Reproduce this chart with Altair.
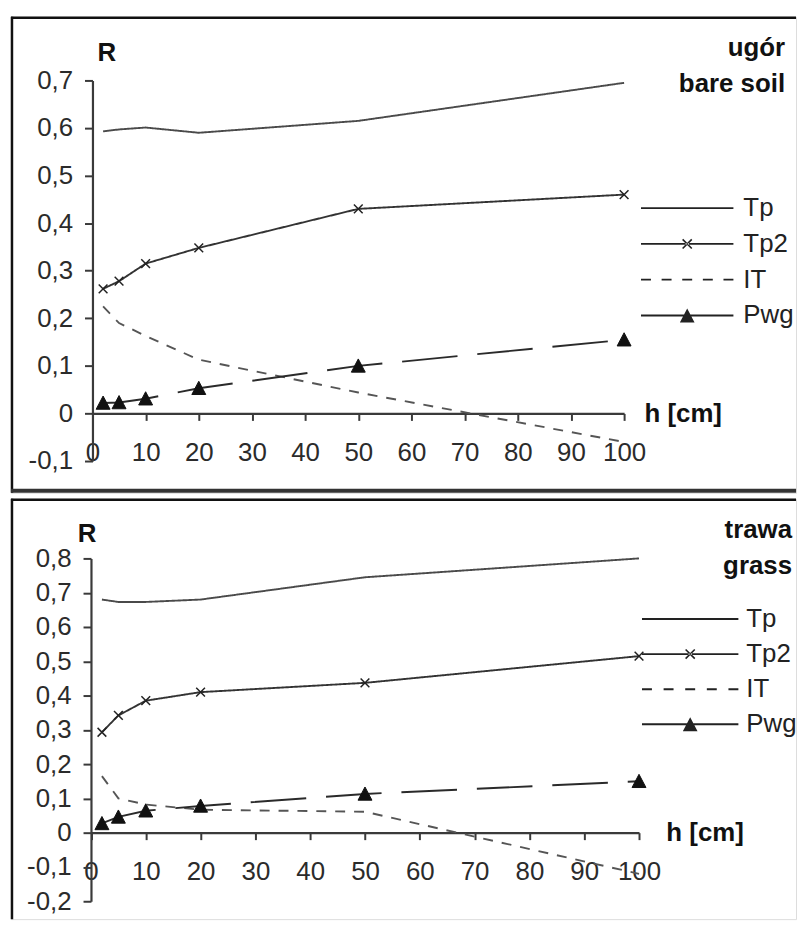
import altair as alt
import pandas as pd

FONT = "Liberation Sans"

# ---------------- data ----------------
h = [2, 5, 10, 20, 50, 100]
series = ["Tp", "Tp2", "IT", "Pwg"]

soil_Tp = [0.593, 0.597, 0.601, 0.590, 0.615, 0.695]
soil_Tp2 = [0.262, 0.278, 0.315, 0.348, 0.430, 0.460]
soil_IT = [0.225, 0.190, 0.163, 0.113, 0.044, -0.060]
soil_Pwg = [0.022, 0.023, 0.031, 0.053, 0.100, 0.155]

grass_Tp = [0.680, 0.673, 0.673, 0.680, 0.745, 0.800]
grass_Tp2 = [0.293, 0.342, 0.385, 0.410, 0.437, 0.515]
grass_IT = [0.165, 0.100, 0.082, 0.067, 0.061, -0.120]
grass_Pwg = [0.027, 0.046, 0.064, 0.078, 0.113, 0.150]

x_ticks = [0, 10, 20, 30, 40, 50, 60, 70, 80, 90, 100]
soil_y_ticks = [-0.1, 0.0, 0.1, 0.2, 0.3, 0.4, 0.5, 0.6, 0.7]
grass_y_ticks = [-0.2, -0.1, 0.0, 0.1, 0.2, 0.3, 0.4, 0.5, 0.6, 0.7, 0.8]

# ---------------- styles (keyed by series name) ----------------
line_color = {"Tp": "#4a4a4a", "Tp2": "#333333", "IT": "#555555", "Pwg": "#2a2a2a"}
line_dash = {"Tp": [1, 0], "Tp2": [1, 0], "IT": [10, 9], "Pwg": [56, 20]}

X_PATH = "M-0.8,-0.8L0.8,0.8M-0.8,0.8L0.8,-0.8"
TRI_PATH = "M-1,0.9L0,-1L1,0.9Z"

LEG_R = 13.0  # legend symbol radius (px) -> symbolSize = (2 * LEG_R) ** 2


def legend_paths(half):
    """Filled legend samples (line + marker), drawn in px and scaled to symbol units."""
    k = 1.0 / LEG_R

    def f(v):
        return f"{v * k:.4f}"

    def rect(a, b, t=0.95):
        return f"M{f(a)},{f(-t)}H{f(b)}V{f(t)}H{f(a)}Z"

    bar = rect(-half, half)
    m, o = 4.6, 0.57
    xmark = (f"M{f(-m - o)},{f(-m + o)}L{f(m - o)},{f(m + o)}L{f(m + o)},{f(m - o)}L{f(-m + o)},{f(-m - o)}Z"
             f"M{f(-m - o)},{f(m - o)}L{f(-m + o)},{f(m + o)}L{f(m + o)},{f(-m + o)}L{f(m - o)},{f(-m - o)}Z")
    period = (2 * half - 10) / 4
    dashes = "".join(rect(-half + i * period, -half + i * period + 10) for i in range(5))
    tri = f"M{f(-7.4)},{f(7)}L0,{f(-7)}L{f(7.4)},{f(7)}Z"
    d = {"Tp": bar, "Tp2": bar + xmark, "IT": dashes, "Pwg": bar + tri}
    return [d[s] for s in series]


# line scales use an alphabetical domain so that they are kept apart from the legend's scale
line_domain = sorted(series)


def make_df(vals):
    rows = []
    for s, v in zip(series, vals):
        for hh, r in zip(h, v):
            rows.append({"h": hh, "R": r, "s": s})
    return pd.DataFrame(rows)


def panel(df, y_ticks, cfg, title, subtitle, bottom_border):
    W, H = cfg["W"], cfg["H"]
    xr, yr, ydom = cfg["xr"], cfg["yr"], cfg["ydom"]
    zero_px = yr[0] - (0 - ydom[0]) / (ydom[1] - ydom[0]) * (yr[0] - yr[1])
    x_off = round(-(H - zero_px), 1)

    xscale = alt.Scale(domain=[0, 100], range=xr, nice=False)
    yscale = alt.Scale(domain=ydom, range=yr, nice=False)

    xaxis = alt.Axis(
        values=x_ticks, grid=False, labelFlush=False, labelOverlap=False,
        domainColor="#3a3a3a", domainWidth=2.2, tickColor="#3a3a3a", tickWidth=2, tickSize=7,
        labelFont=FONT, labelFontSize=26, labelColor="#2b2b2b", labelPadding=19,
        offset=x_off, title="h [cm]", titleFont=FONT, titleFontSize=26, titleFontWeight="bold",
        titleColor="#111111", titleX=cfg["hx"], titleY=0, titleAlign="left", titleBaseline="middle",
        titleAngle=0,
    )
    yaxis = alt.Axis(
        values=y_ticks, format=".1~f", grid=False, labelFlush=False, labelOverlap=False,
        domainColor="#3a3a3a", domainWidth=2.2, tickColor="#3a3a3a", tickWidth=2, tickSize=8,
        labelFont=FONT, labelFontSize=26, labelColor="#2b2b2b", labelPadding=12,
        offset=-xr[0], title="R", titleFont=FONT, titleFontSize=26, titleFontWeight="bold",
        titleColor="#111111", titleAngle=0, titleX=cfg["rx"], titleY=cfg["ry"],
        titleAlign="center", titleBaseline="middle",
    )
    X = alt.X("h:Q", scale=xscale, axis=xaxis)
    Y = alt.Y("R:Q", scale=yscale, axis=yaxis)

    one = alt.Data(values=[{}])
    borders = [
        alt.Chart(one).mark_rule(color="#111111", strokeWidth=2.5).encode(
            x=alt.value(0), x2=alt.value(W), y=alt.value(1)),
        alt.Chart(one).mark_rule(color="#111111", strokeWidth=2.5).encode(
            x=alt.value(1), y=alt.value(0), y2=alt.value(H)),
    ]
    if bottom_border:
        borders.append(alt.Chart(one).mark_rule(color="#333333", strokeWidth=4).encode(
            x=alt.value(0), x2=alt.value(W), y=alt.value(H - 2)))

    lines = alt.Chart(df).mark_line(strokeWidth=1.9).encode(
        x=X, y=Y,
        color=alt.Color("s:N", scale=alt.Scale(domain=line_domain,
                                               range=[line_color[s] for s in line_domain]),
                        legend=None),
        strokeDash=alt.StrokeDash("s:N", scale=alt.Scale(domain=line_domain,
                                                         range=[line_dash[s] for s in line_domain]),
                                  legend=None),
        order="h:Q",
    )
    tp2_pts = alt.Chart(df).transform_filter("datum.s == 'Tp2'").mark_point(
        shape=X_PATH, size=121, stroke="#222222", strokeWidth=1.5, opacity=1, filled=False
    ).encode(x=X, y=Y)
    pwg_pts = alt.Chart(df).transform_filter("datum.s == 'Pwg'").mark_point(
        shape=TRI_PATH, size=196, fill="#111111", stroke="#111111", strokeWidth=1, opacity=1, filled=True
    ).encode(x=X, y=Y)

    legend_layer = alt.Chart(df).transform_filter("datum.h > 1000").mark_point(
        filled=True, fill="#222222", strokeWidth=0, opacity=1
    ).encode(
        x=X, y=Y,
        shape=alt.Shape("s:N", scale=alt.Scale(domain=series, range=legend_paths(cfg["lhalf"])),
                        legend=alt.Legend(
                            orient="none", legendX=cfg["lx"], legendY=cfg["ly"], title=None,
                            padding=0, symbolSize=(2 * LEG_R) ** 2, symbolFillColor="#222222",
                            symbolStrokeWidth=0, symbolOpacity=1,
                            labelFont=FONT, labelFontSize=26, labelColor="#222222",
                            labelOffset=cfg["loff"], rowPadding=cfg["rowpad"],
                        )),
    )

    return alt.layer(lines, tp2_pts, pwg_pts, legend_layer, *borders).properties(
        width=W, height=H,
        title=alt.TitleParams(
            text=title, subtitle=subtitle, anchor="end", orient="top", frame="group",
            offset=cfg["toff"], dx=cfg["tdx"],
            font=FONT, fontSize=26, fontWeight="bold", color="#111111",
            subtitleFont=FONT, subtitleFontSize=26, subtitleFontWeight="bold",
            subtitleColor="#111111", subtitlePadding=10,
        ),
    )


top_cfg = dict(W=790, H=479, xr=[82, 617], yr=[447, 64], ydom=[-0.1, 0.7],
               hx=637, rx=14, ry=36, lhalf=46.5, lx=667.5, ly=179.5, loff=43.5, rowpad=10,
               toff=-82, tdx=-11)
bot_cfg = dict(W=790, H=423, xr=[80.5, 632], yr=[405, 60], ydom=[-0.2, 0.8],
               hx=659, rx=-4.5, ry=35, lhalf=48.5, lx=670.5, ly=108, loff=43.5, rowpad=9.3,
               toff=-82, tdx=-4)

top = panel(make_df([soil_Tp, soil_Tp2, soil_IT, soil_Pwg]), soil_y_ticks, top_cfg,
            "ugór", "bare soil", True)
bottom = panel(make_df([grass_Tp, grass_Tp2, grass_IT, grass_Pwg]), grass_y_ticks, bot_cfg,
               "trawa", "grass", False)

chart = alt.vconcat(top, bottom, spacing=2).resolve_scale(
    x="independent", y="independent", color="independent", strokeDash="independent",
    shape="independent",
).properties(
    padding={"left": 0, "top": 4, "right": 0, "bottom": 0},
).configure_view(stroke=None).configure(
    background="white",
    locale=alt.Locale(number=alt.NumberLocale(
        decimal=",", thousands="\u00a0", grouping=[3], currency=["", ""], minus="-")),
)

chart.save("out.html", embed_options={"renderer": "svg", "actions": False})
